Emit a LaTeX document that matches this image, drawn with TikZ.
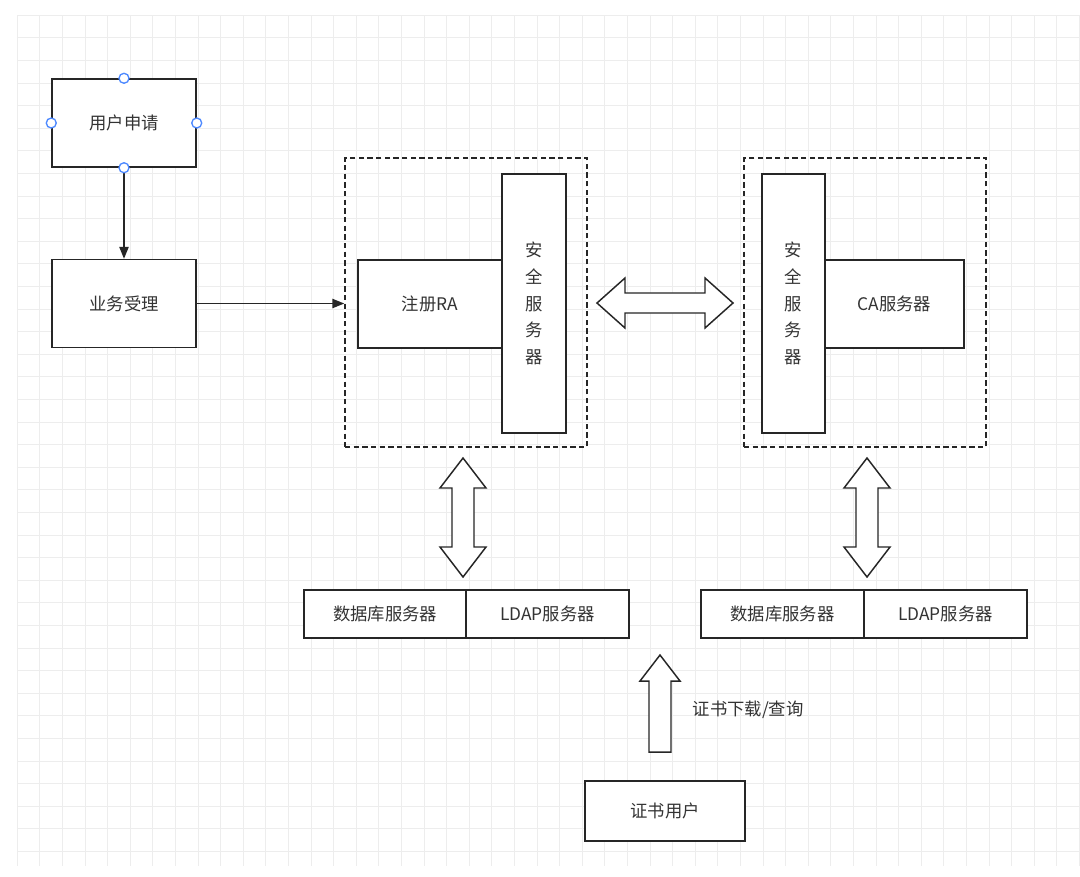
\documentclass[tikz,border=0pt]{standalone}
\usepackage{fontspec}
\setmainfont{Noto Sans CJK SC}
\usetikzlibrary{arrows.meta}
\definecolor{handle}{RGB}{77,137,255}
\tikzstyle{box} = [draw=black!85, line width=1.1pt, rectangle, fill=white, inner sep=0pt,
  font=\fontsize{13}{17}\selectfont, text=black!80]
\tikzstyle{group} = [draw=black!85, line width=1.1pt, dash pattern=on 4pt off 2.5pt,
  rectangle, inner sep=0pt]
\tikzstyle{fat} = [draw=black!85, line width=1.1pt, fill=white, line join=miter]
\tikzstyle{link} = [-{Triangle[length=9pt,width=7pt]}, draw=black!85, line width=1.1pt]
\tikzstyle{handle} = [draw=handle, line width=1pt, fill=white, circle, inner sep=0pt,
  minimum size=7.5pt]
\begin{document}
\begin{tikzpicture}[x=0.75pt, y=-0.75pt]
        \useasboundingbox (0,0) rectangle (1080,876);
        \fill[white] (0,0) rectangle (1080,876);
        % grid
        \foreach \i in {0,...,47} {
          \draw[black!7] (17+22.6*\i,15) -- (17+22.6*\i,866);
        }
        \foreach \j in {0,...,37} {
          \draw[black!7] (17,15+22.6*\j) -- (1080,15+22.6*\j);
        }

        \node [group] (ragroup) at (466,302.5) [minimum width=181.5pt, minimum height=216.75pt] {};
        \node [group] (cagroup) at (865,302.5) [minimum width=181.5pt, minimum height=216.75pt] {};

        \node [box] (apply)  at (124,123)   [minimum width=108pt, minimum height=66pt] {用户申请};
        \node [box] (accept) at (124,303.5) [minimum width=108pt, minimum height=66pt] {业务受理};
        \node [box] (ra)     at (430,304)   [minimum width=108pt, minimum height=66pt] {注册RA};
        \node [box, align=center, font=\fontsize{13}{20}\selectfont] (rasec) at (534,303.5)
          [minimum width=48pt, minimum height=194.25pt] {安\\全\\服\\务\\器};
        \node [box, align=center, font=\fontsize{13}{20}\selectfont] (casec) at (793.5,303.5)
          [minimum width=47.25pt, minimum height=194.25pt] {安\\全\\服\\务\\器};
        \node [box] (ca)     at (894.5,304) [minimum width=104.25pt, minimum height=66pt] {CA服务器};

        \node [box] (radb)   at (385,614)   [minimum width=121.5pt, minimum height=36pt] {数据库服务器};
        \node [box] (raldap) at (547.5,614) [minimum width=122.25pt, minimum height=36pt] {LDAP服务器};
        \node [box] (cadb)   at (782.5,614) [minimum width=122.25pt, minimum height=36pt] {数据库服务器};
        \node [box] (caldap) at (945.5,614) [minimum width=122.25pt, minimum height=36pt] {LDAP服务器};
        \node [box] (user)   at (665,811)   [minimum width=120pt, minimum height=45pt] {证书用户};

        \draw[link] (apply.south) -- (accept.north);
        \draw[link] (accept.east) -- (accept.east -| ragroup.west);

        % hollow arrows
        \draw[fat] (597,303) -- (625,278) -- (625,293) -- (705,293) -- (705,278) -- (733,303)
          -- (705,328) -- (705,313) -- (625,313) -- (625,328) -- cycle;
        \foreach \cx in {463,867} {
          \draw[fat] (\cx,458) -- (\cx+23,488) -- (\cx+11,488) -- (\cx+11,547) -- (\cx+23,547)
            -- (\cx,577) -- (\cx-23,547) -- (\cx-11,547) -- (\cx-11,488) -- (\cx-23,488) -- cycle;
        }
        \draw[fat] (660,655) -- (680,681) -- (671,681) -- (671,752) -- (649,752) -- (649,681)
          -- (640,681) -- cycle;
        \node [anchor=west, font=\fontsize{13}{17}\selectfont, text=black!80] (query) at (688,710) {证书下载/查询};

        % selection handles
        \foreach \p in {north,south,east,west} {
          \node [handle] at (apply.\p) {};
        }
      \end{tikzpicture}
\end{document}
